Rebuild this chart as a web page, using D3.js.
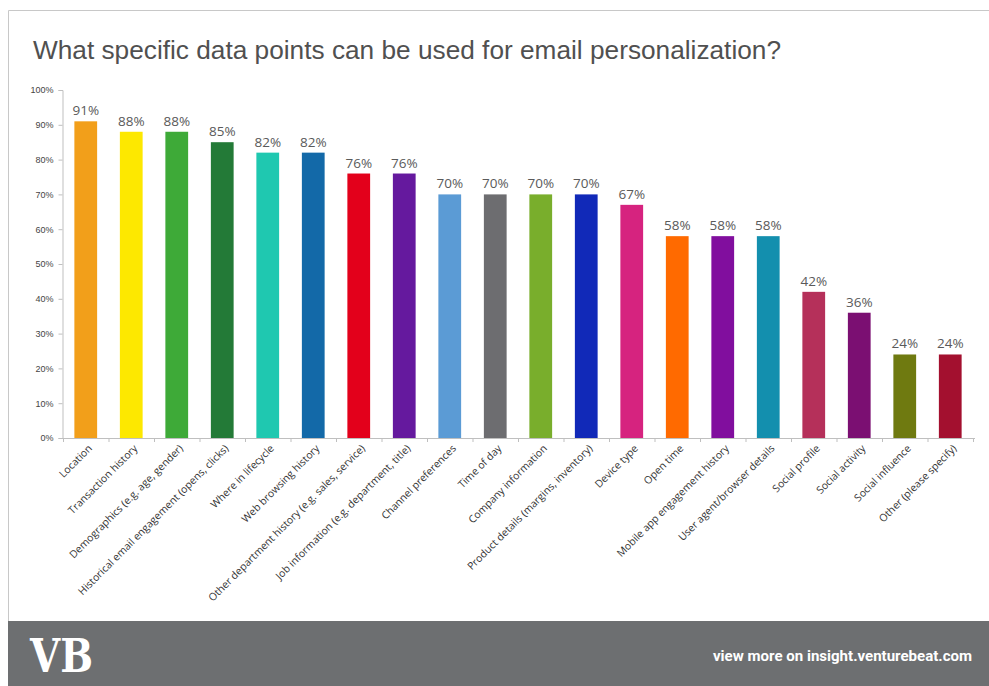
<!DOCTYPE html>
<html>
<head>
<meta charset="utf-8">
<script src="https://cdn.jsdelivr.net/npm/d3@7"></script>
<style>
  body { margin: 0; background: #fff; }
  svg { display: block; }
</style>
</head>
<body>
<div id="chart"></div>
<script>
const categories = [
  "Location", "Transaction history", "Demographics (e.g. age, gender)",
  "Historical email engagement (opens, clicks)", "Where in lifecycle",
  "Web browsing history", "Other department history (e.g. sales, service)",
  "Job information (e.g. department, title)", "Channel preferences", "Time of day",
  "Company information", "Product details (margins, inventory)", "Device type",
  "Open time", "Mobile app engagement history", "User agent/browser details",
  "Social profile", "Social activity", "Social influence", "Other (please specify)"
];
const values = [91, 88, 88, 85, 82, 82, 76, 76, 70, 70, 70, 70, 67, 58, 58, 58, 42, 36, 24, 24];
const colors = [
  "#f29f1a", "#fde800", "#3eaa38", "#237a37", "#1fc8b0", "#1369a8", "#e3001b",
  "#65199e", "#5b9bd5", "#6d6d70", "#79ae2c", "#1129b8", "#d6237f", "#ff6a00",
  "#810e9e", "#138fae", "#b5305a", "#7b0f72", "#6f7a10", "#a3102f"
];
const yTicks = [0, 10, 20, 30, 40, 50, 60, 70, 80, 90, 100];

const W = 989, H = 686;
const svg = d3.select("#chart").append("svg").attr("width", W).attr("height", H);

// frame
svg.append("path")
  .attr("d", "M8.5,621 V10.5 H989")
  .attr("fill", "none").attr("stroke", "#c8c8c8");

svg.append("text")
  .attr("x", 33).attr("y", 59)
  .attr("font-family", "Liberation Sans, Arial, sans-serif")
  .attr("font-size", 25)
  .attr("fill", "#505050")
  .attr("textLength", 748)
  .attr("lengthAdjust", "spacingAndGlyphs")
  .text("What specific data points can be used for email personalization?");

const x = d3.scaleBand().domain(categories).range([63, 973]).paddingInner(0.5).paddingOuter(0.25);
const y = d3.scaleLinear().domain([0, 100]).range([438, 90]);

// y axis
const yAxis = svg.append("g")
  .attr("transform", "translate(62.5,0)")
  .call(d3.axisLeft(y).tickValues(yTicks).tickSize(4).tickFormat(d => d + "%"));
yAxis.select(".domain").attr("stroke", "#bfbfbf");
yAxis.selectAll(".tick line").attr("stroke", "#bfbfbf");
yAxis.selectAll("text")
  .attr("font-family", "Liberation Sans, Arial, sans-serif")
  .attr("font-size", 9).attr("fill", "#444").attr("x", -9);

// x axis line and tick marks between categories
const x0 = 63;
svg.append("line")
  .attr("x1", x0).attr("x2", 975).attr("y1", 438.5).attr("y2", 438.5)
  .attr("stroke", "#bfbfbf");
svg.selectAll(".xtick")
  .data(d3.range(categories.length + 1))
  .enter().append("line")
  .attr("x1", i => x0 + i * x.step() + 0.5)
  .attr("x2", i => x0 + i * x.step() + 0.5)
  .attr("y1", 438).attr("y2", 442)
  .attr("stroke", "#bfbfbf");

// bars
svg.selectAll(".bar")
  .data(categories)
  .enter().append("rect")
  .attr("x", d => x(d))
  .attr("width", x.bandwidth())
  .attr("y", (d, i) => y(values[i]))
  .attr("height", (d, i) => y(0) - y(values[i]))
  .attr("fill", (d, i) => colors[i]);

// value labels
svg.selectAll(".val")
  .data(categories)
  .enter().append("text")
  .attr("x", d => x(d) + x.bandwidth() / 2)
  .attr("y", (d, i) => y(values[i]) - 6)
  .attr("text-anchor", "middle")
  .attr("font-family", "Open Sans, sans-serif")
  .attr("font-size", 13.5)
  .attr("fill", "#5a5a5a")
  .text((d, i) => values[i] + "%");

// category labels
svg.selectAll(".cat")
  .data(categories)
  .enter().append("text")
  .attr("transform", d => `translate(${x(d) + x.bandwidth() / 2 + 7},${449}) rotate(-45)`)
  .attr("text-anchor", "end")
  .attr("font-family", "Open Sans, sans-serif")
  .attr("font-size", 10.4)
  .attr("fill", "#333")
  .text(d => d);

// footer
svg.append("rect").attr("x", 8).attr("y", 621).attr("width", W - 8).attr("height", H - 621)
  .attr("fill", "#6d6f71");
svg.append("text")
  .attr("x", 30).attr("y", 672)
  .attr("font-family", "DejaVu Serif, serif")
  .attr("font-weight", "bold")
  .attr("font-size", 46)
  .attr("fill", "#fff")
  .attr("textLength", 63)
  .attr("lengthAdjust", "spacingAndGlyphs")
  .text("VB");
svg.append("text")
  .attr("x", 713).attr("y", 661)
  .attr("font-family", "Roboto, sans-serif")
  .attr("font-weight", "bold")
  .attr("font-size", 15)
  .attr("fill", "#fff")
  .attr("textLength", 259)
  .attr("lengthAdjust", "spacingAndGlyphs")
  .text("view more on insight.venturebeat.com");
</script>
</body>
</html>
